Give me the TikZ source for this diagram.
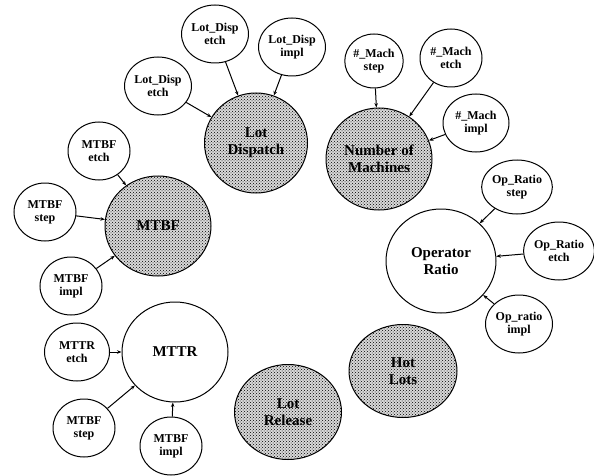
\documentclass[tikz,border=0pt]{standalone}
\usepackage{fontspec}
\setmainfont{Liberation Serif}
\usetikzlibrary{arrows.meta,shapes.geometric,patterns}

\begin{document}
\begin{tikzpicture}[
  x=1pt,y=-1pt,
  fac/.style={draw,ellipse,line width=1pt,minimum width=106pt,minimum height=100pt,inner sep=0pt,align=center,font=\fontsize{15}{17}\selectfont\bfseries},
  shd/.style={fac,preaction={fill=gray!30},pattern=crosshatch dots},
  sub/.style={draw,ellipse,line width=1pt,minimum width=62pt,minimum height=58pt,inner sep=0pt,align=center,font=\fontsize{12}{13}\selectfont\bfseries},
  ar/.style={-{Stealth[length=4.5pt,width=3.5pt]},line width=1pt}
]
\useasboundingbox (0,0) rectangle (594,476);
% factors
\node[shd,minimum width=103pt] (disp) at (256,143) {Lot\\Dispatch};
\node[shd,minimum height=102pt] (mach) at (379,159) {Number of\\Machines};
\node[shd] (mtbf) at (158,226) {MTBF};
\node[fac,minimum width=110pt,minimum height=104pt] (opr) at (441,261) {Operator\\Ratio};
\node[fac] (mttr) at (175,352) {MTTR};
\node[shd,minimum width=108pt,minimum height=93pt] (hot) at (403,371) {Hot\\Lots};
\node[shd,minimum width=107pt,minimum height=95pt] (rel) at (288,412) {Lot\\Release};
% Lot dispatch inputs
\node[sub] (de1) at (215,34) {Lot\_Disp\\etch};
\node[sub] (di) at (292,47) {Lot\_Disp\\impl};
\node[sub] (de2) at (158,86) {Lot\_Disp\\etch};
% machine inputs
\node[sub,minimum width=58pt,minimum height=54pt] (ms) at (374,61) {\#\_Mach\\step};
\node[sub] (me) at (451,58) {\#\_Mach\\etch};
\node[sub,minimum width=66pt] (mi) at (476,123) {\#\_Mach\\impl};
% operator inputs
\node[sub,minimum width=65pt,minimum height=54pt] (os) at (517,187) {Op\_Ratio\\step};
\node[sub,minimum width=65pt] (oe) at (559,251) {Op\_Ratio\\etch};
\node[sub,minimum width=67pt] (oi) at (519,324) {Op\_ratio\\impl};
% MTBF inputs
\node[sub] (fe) at (99,151) {MTBF\\etch};
\node[sub] (fs) at (45,212) {MTBF\\step};
\node[sub] (fi) at (71,286) {MTBF\\impl};
% MTTR inputs
\node[sub,minimum width=65pt] (re) at (77,352) {MTTR\\etch};
\node[sub] (rs) at (84,428) {MTBF\\step};
\node[sub] (ri) at (171,446) {MTBF\\impl};
\draw[ar] (de1) -- (disp);
\draw[ar] (di) -- (disp);
\draw[ar] (de2) -- (disp);
\draw[ar] (ms) -- (mach);
\draw[ar] (me) -- (mach);
\draw[ar] (mi) -- (mach);
\draw[ar] (os) -- (opr);
\draw[ar] (oe) -- (opr);
\draw[ar] (oi) -- (opr);
\draw[ar] (fe) -- (mtbf);
\draw[ar] (fs) -- (mtbf);
\draw[ar] (fi) -- (mtbf);
\draw[ar] (re) -- (mttr);
\draw[ar] (rs) -- (mttr);
\draw[ar] (ri) -- (mttr);
\end{tikzpicture}
\end{document}
